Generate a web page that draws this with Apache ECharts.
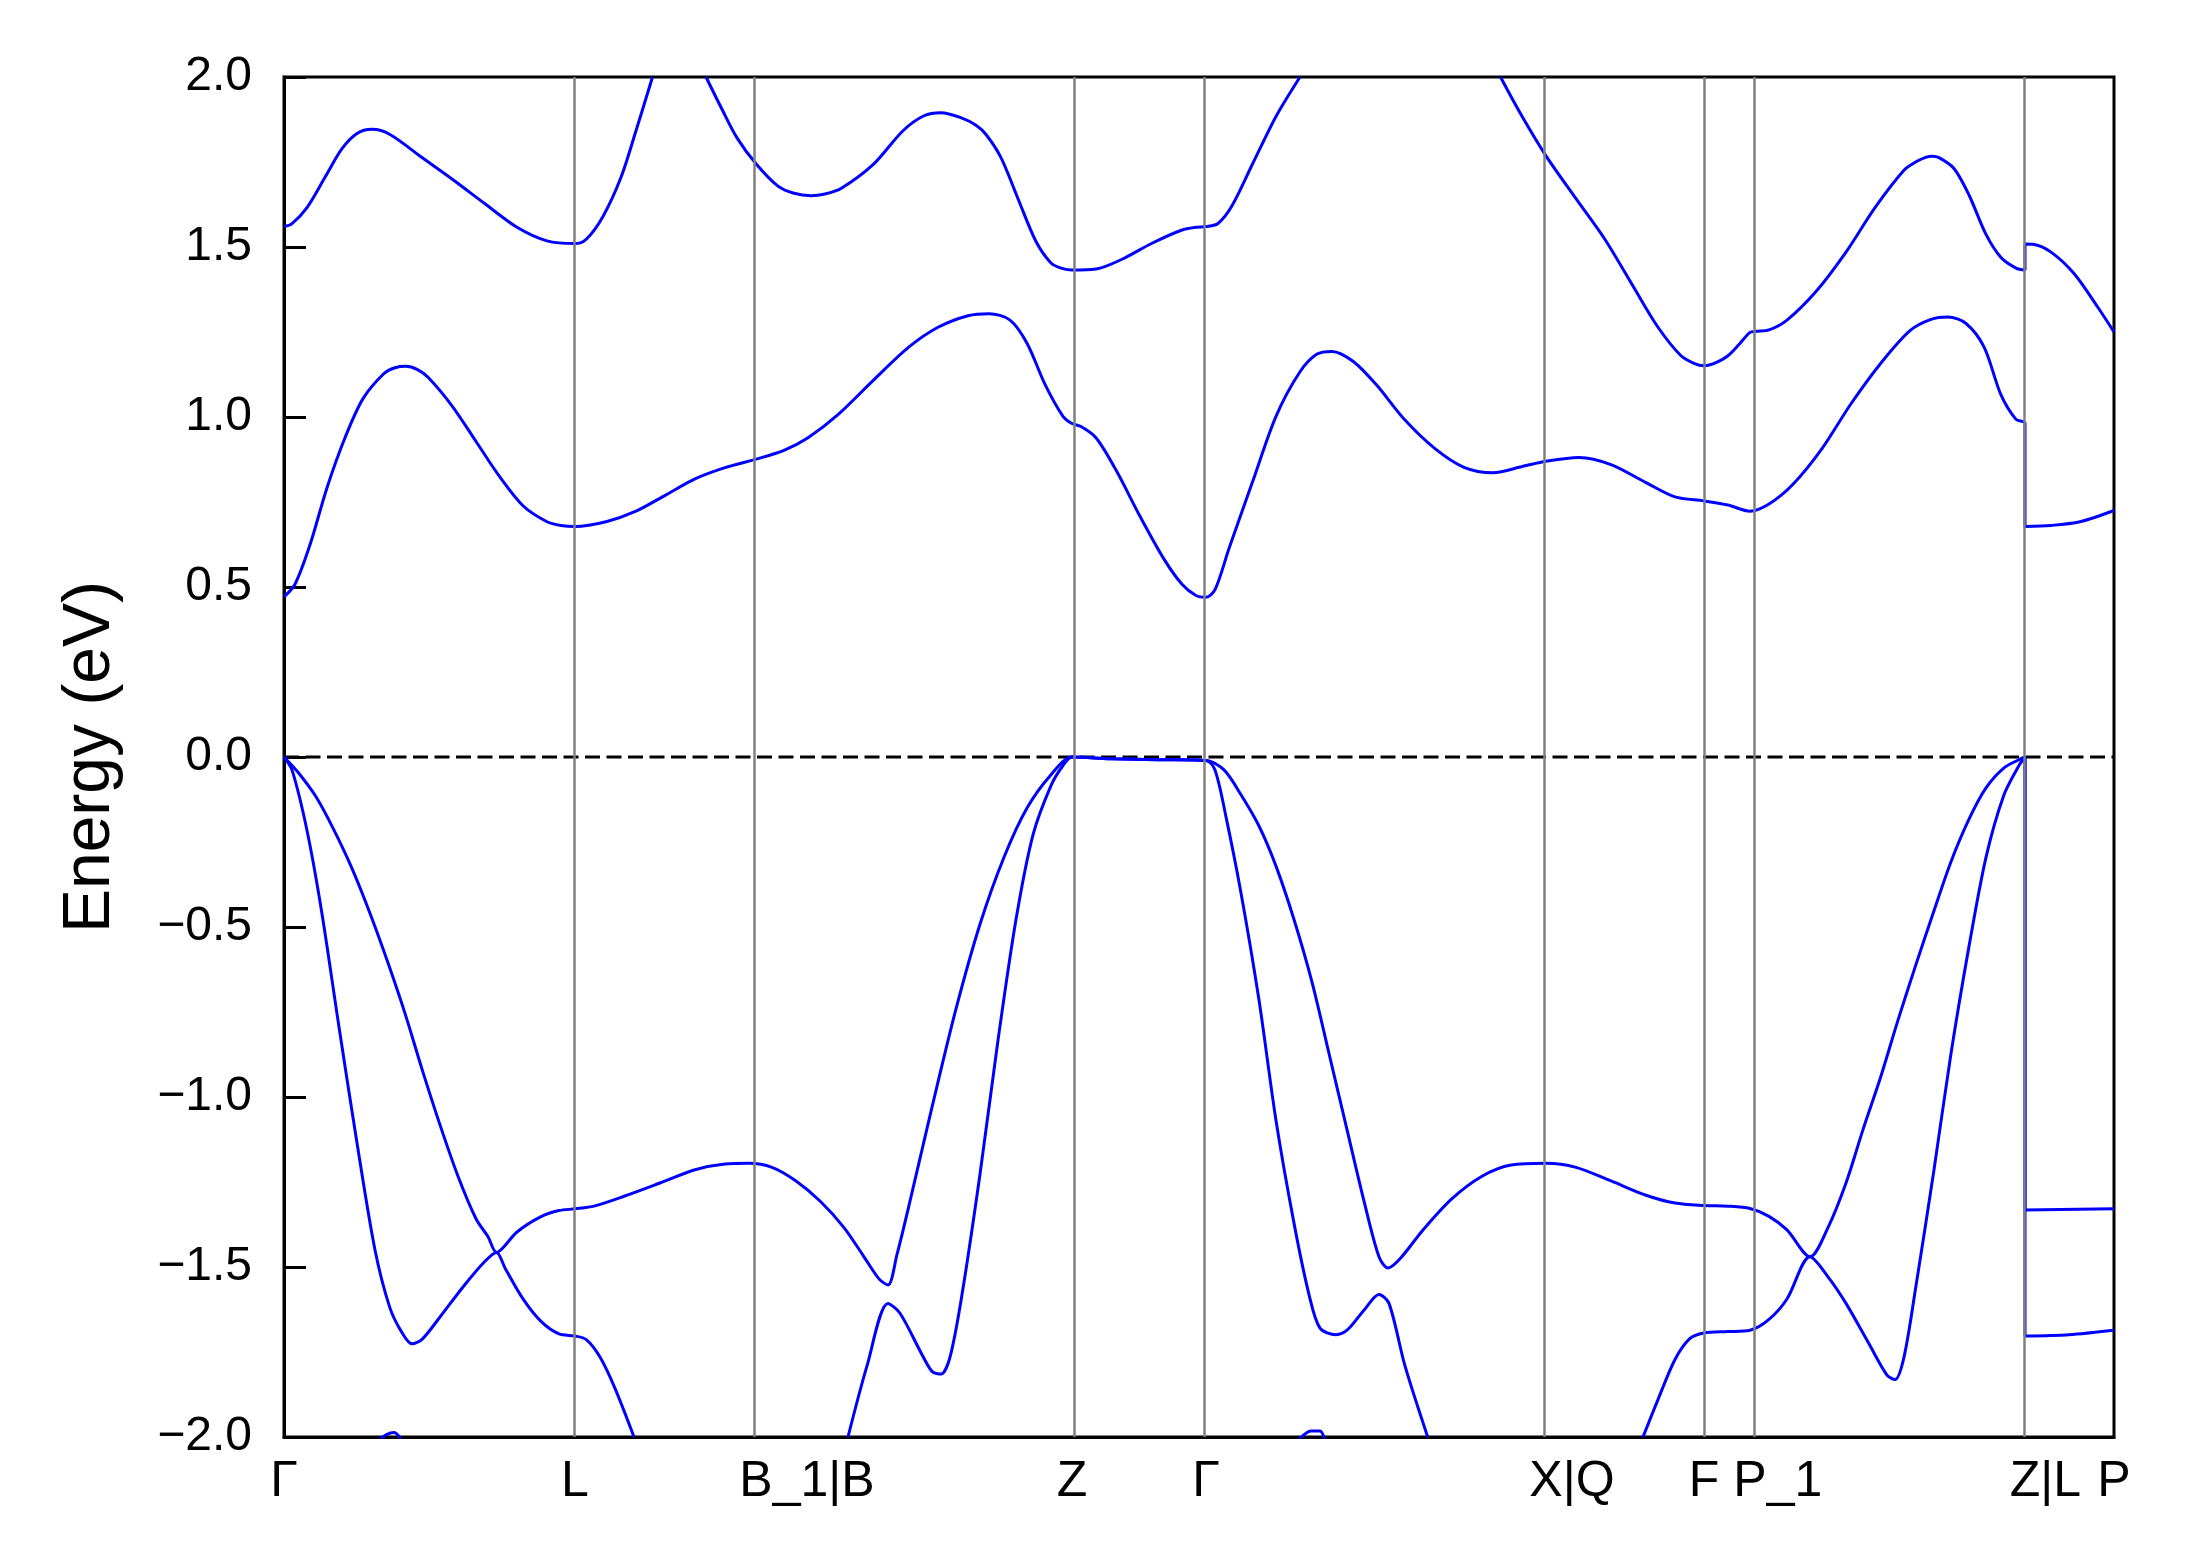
<!DOCTYPE html>
<html>
<head>
<meta charset="utf-8">
<title>Band structure</title>
<script src="https://cdn.jsdelivr.net/npm/echarts@6.0.0/dist/echarts.min.js"></script>
<style>
    html, body { margin: 0; padding: 0; background: #fff; }
    #band_chart { width: 2189px; height: 1567px; }
</style>
</head>
<body>
<div id="band_chart"></div>
<script>
// high-symmetry points along the k-path (k-distance) and their labels
var kTicks = [0, 0.291, 0.472, 0.788, 0.922, 1.262, 1.420, 1.466, 1.741, 1.830];
var kLabels = ['Γ', 'L', 'B_1|B', 'Z', 'Γ', 'X|Q', 'F', 'P_1', 'Z|L', 'P'];

// bands as [k, E(eV)], null = band leaves the -2..2 window
// (a point given twice is a sharp corner, e.g. where two bands cross)
var cb2 = [
    [0, 1.560], [0.008, 1.569], [0.023, 1.616], [0.041, 1.705], [0.058, 1.789], [0.073, 1.834],
    [0.088, 1.846], [0.106, 1.831], [0.138, 1.763], [0.168, 1.700], [0.201, 1.627], [0.233, 1.558],
    [0.263, 1.518], [0.291, 1.510], [0.302, 1.522], [0.319, 1.590], [0.337, 1.705], [0.352, 1.842],
    [0.3685, 2.0], null,
    [0.422, 2.0], [0.438, 1.905], [0.453, 1.821], [0.472, 1.745], [0.494, 1.679], [0.510, 1.658],
    [0.527, 1.651], [0.541, 1.656], [0.557, 1.672], [0.589, 1.742], [0.619, 1.842], [0.640, 1.886],
    [0.657, 1.895], [0.678, 1.879], [0.692, 1.858], [0.702, 1.831], [0.717, 1.763], [0.734, 1.642],
    [0.752, 1.516], [0.767, 1.453], [0.778, 1.437], [0.788, 1.432], [0.812, 1.435], [0.838, 1.464],
    [0.868, 1.511], [0.898, 1.550], [0.912, 1.558], [0.922, 1.560], [0.934, 1.569], [0.948, 1.621],
    [0.969, 1.747], [0.992, 1.884], [1.016, 2.0], null,
    [1.2165, 2.0], [1.236, 1.895], [1.262, 1.768], [1.292, 1.642], [1.321, 1.522], [1.350, 1.380],
    [1.374, 1.264], [1.397, 1.180], [1.410, 1.158], [1.420, 1.151], [1.432, 1.160], [1.444, 1.180],
    [1.455, 1.213], [1.466, 1.249], [1.466, 1.249], [1.472, 1.252], [1.485, 1.256], [1.503, 1.285],
    [1.532, 1.369], [1.562, 1.485], [1.591, 1.616], [1.620, 1.726], [1.633, 1.752], [1.641, 1.763],
    [1.648, 1.767], [1.655, 1.763], [1.670, 1.731], [1.685, 1.653], [1.702, 1.537], [1.717, 1.469],
    [1.732, 1.438], [1.741, 1.432], [1.741, 1.509], [1.749, 1.508], [1.767, 1.485], [1.790, 1.422],
    [1.814, 1.322], [1.830, 1.250]
];

var cb1 = [
    [0, 0.471], [0.011, 0.508], [0.026, 0.624], [0.043, 0.792], [0.061, 0.939], [0.079, 1.054],
    [0.100, 1.128], [0.111, 1.145], [0.122, 1.149], [0.133, 1.140], [0.144, 1.117], [0.168, 1.033],
    [0.192, 0.928], [0.216, 0.823], [0.239, 0.739], [0.263, 0.692], [0.277, 0.681], [0.291, 0.678],
    [0.322, 0.692], [0.352, 0.723], [0.382, 0.771], [0.411, 0.818], [0.441, 0.851], [0.472, 0.876],
    [0.500, 0.902], [0.524, 0.939], [0.554, 1.007], [0.589, 1.107], [0.625, 1.206], [0.654, 1.264],
    [0.684, 1.298], [0.705, 1.304], [0.726, 1.285], [0.743, 1.217], [0.761, 1.096], [0.779, 1.002],
    [0.788, 0.981], [0.797, 0.972], [0.812, 0.939], [0.832, 0.844], [0.856, 0.708], [0.880, 0.582],
    [0.898, 0.508], [0.912, 0.475], [0.922, 0.470], [0.931, 0.492], [0.945, 0.613], [0.969, 0.813],
    [0.992, 1.002], [1.016, 1.133], [1.033, 1.185], [1.048, 1.193], [1.069, 1.164], [1.092, 1.096],
    [1.121, 0.991], [1.151, 0.907], [1.180, 0.852], [1.209, 0.836], [1.239, 0.855], [1.262, 0.870],
    [1.295, 0.881], [1.327, 0.860], [1.362, 0.807], [1.391, 0.765], [1.420, 0.753], [1.444, 0.741],
    [1.466, 0.723], [1.466, 0.723], [1.485, 0.744], [1.509, 0.802], [1.538, 0.907], [1.567, 1.039],
    [1.597, 1.159], [1.626, 1.254], [1.647, 1.287], [1.664, 1.294], [1.682, 1.275], [1.700, 1.206],
    [1.717, 1.065], [1.732, 0.993], [1.741, 0.981], [1.741, 0.678], [1.767, 0.681], [1.796, 0.692],
    [1.830, 0.725]
];

var vb1 = [
    [0, 0], [0.014, -0.045], [0.032, -0.117], [0.049, -0.209], [0.067, -0.321], [0.085, -0.452],
    [0.103, -0.597], [0.121, -0.754], [0.138, -0.918], [0.156, -1.082], [0.174, -1.233], [0.192, -1.358],
    [0.204, -1.411], [0.2125, -1.457], [0.2125, -1.457], [0.233, -1.397], [0.257, -1.352], [0.275, -1.334],
    [0.291, -1.329], [0.310, -1.321], [0.340, -1.292], [0.376, -1.253], [0.411, -1.214], [0.441, -1.197],
    [0.465, -1.195], [0.488, -1.207], [0.512, -1.247], [0.536, -1.306], [0.560, -1.384], [0.580, -1.470],
    [0.595, -1.535], [0.604, -1.553], [0.604, -1.553], [0.613, -1.463], [0.625, -1.319], [0.648, -1.030],
    [0.672, -0.741], [0.696, -0.492], [0.720, -0.295], [0.743, -0.150], [0.767, -0.052], [0.788, 0],
    [0.826, -0.005], [0.874, -0.008], [0.922, -0.010], [0.940, -0.038], [0.957, -0.111], [0.975, -0.203],
    [0.992, -0.321], [1.010, -0.478], [1.028, -0.662], [1.045, -0.872], [1.063, -1.096], [1.080, -1.306],
    [1.095, -1.470], [1.104, -1.503], [1.104, -1.503], [1.116, -1.476], [1.139, -1.391], [1.168, -1.299],
    [1.198, -1.233], [1.227, -1.200], [1.262, -1.195], [1.292, -1.207], [1.327, -1.247], [1.362, -1.289],
    [1.391, -1.312], [1.420, -1.319], [1.444, -1.321], [1.466, -1.328], [1.485, -1.351], [1.503, -1.391],
    [1.526, -1.470], [1.526, -1.470], [1.544, -1.384], [1.562, -1.253], [1.579, -1.096], [1.597, -0.938],
    [1.614, -0.774], [1.632, -0.610], [1.650, -0.452], [1.667, -0.308], [1.685, -0.183], [1.702, -0.091],
    [1.720, -0.032], [1.735, -0.008], [1.741, 0], [1.741, -1.332], [1.830, -1.329]
];

var vb2 = [
    [0, 0], [0.008, -0.038], [0.023, -0.216], [0.0375, -0.452], [0.055, -0.794], [0.073, -1.135],
    [0.091, -1.450], [0.106, -1.621], [0.118, -1.693], [0.128, -1.726], [0.138, -1.713], [0.156, -1.647],
    [0.180, -1.555], [0.201, -1.483], [0.2125, -1.457], [0.2125, -1.457], [0.221, -1.503], [0.239, -1.594],
    [0.257, -1.660], [0.275, -1.697], [0.291, -1.703], [0.302, -1.713], [0.316, -1.765], [0.331, -1.857],
    [0.350, -2.0], null,
    [0.564, -2.0], [0.583, -1.791], [0.604, -1.607], [0.604, -1.607], [0.616, -1.636], [0.637, -1.752],
    [0.648, -1.807], [0.657, -1.815], [0.666, -1.765], [0.678, -1.581], [0.696, -1.227], [0.714, -0.833],
    [0.732, -0.478], [0.749, -0.229], [0.767, -0.084], [0.779, -0.025], [0.788, 0], [0.826, -0.005],
    [0.874, -0.008], [0.922, -0.010], [0.931, -0.038], [0.942, -0.176], [0.957, -0.400], [0.975, -0.715],
    [0.992, -1.069], [1.010, -1.371], [1.025, -1.581], [1.036, -1.680], [1.052, -1.699], [1.063, -1.686],
    [1.080, -1.627], [1.095, -1.581], [1.095, -1.581], [1.105, -1.607], [1.121, -1.791], [1.1437, -2.0], null,
    [1.359, -2.0], [1.374, -1.890], [1.391, -1.772], [1.406, -1.710], [1.420, -1.694], [1.444, -1.690],
    [1.466, -1.686], [1.485, -1.654], [1.503, -1.594], [1.526, -1.470], [1.526, -1.470], [1.544, -1.529],
    [1.562, -1.607], [1.585, -1.726], [1.603, -1.818], [1.611, -1.831], [1.620, -1.765], [1.632, -1.555],
    [1.650, -1.214], [1.667, -0.872], [1.685, -0.557], [1.702, -0.295], [1.720, -0.111], [1.735, -0.025],
    [1.741, 0], [1.741, -1.703], [1.785, -1.699], [1.830, -1.686]
];

// third valence band only peeks above -2 eV twice
var vb3 = [
    [0.094, -2.01], [0.103, -1.992], [0.110, -1.987], [0.118, -2.01], null,
    [1.014, -2.01], [1.027, -1.982], [1.036, -1.982], [1.041, -2.01]
];

var bands = [cb2, cb1, vb1, vb2, vb3];
var fermiLevel = 0;

var font = '"Liberation Sans", Arial, Helvetica, sans-serif';
var kFontSize = 50;

// cut a band into pieces at the nulls
function splitBand(band) {
    var segs = [[]];
    band.forEach(function (p) {
        if (p === null) segs.push([]);
        else segs[segs.length - 1].push(p);
    });
    return segs;
}

function minusLabel(value) {
    if (value < 0) return '\u2212' + Math.abs(value).toFixed(1);
    return value.toFixed(1);
}

// labels sit with their first letter centred on the tick, so pad the left
// side by the width of the rest of the label
var measureCtx = document.createElement('canvas').getContext('2d');
measureCtx.font = kFontSize + 'px ' + font;
var kRich = { t: { fontSize: kFontSize, fontFamily: font, color: '#000000' } };
kLabels.forEach(function (lab, i) {
    var restW = measureCtx.measureText(lab.slice(1)).width;
    kRich['p' + i] = { width: restW, fontSize: kFontSize, fontFamily: font };
});

function kLabel(value) {
    var best = 0;
    for (var i = 0; i < kTicks.length; i++) {
        if (Math.abs(kTicks[i] - value) < Math.abs(kTicks[best] - value)) best = i;
    }
    var lab = kLabels[best];
    if (lab.length > 1) return '{p' + best + '| }{t|' + lab + '}';
    return '{t|' + lab + '}';
}

function draw_band_chart() {
    var chartDom = document.getElementById('band_chart');
    var myChart = echarts.init(chartDom);

    var series = [];
    // high-symmetry lines
    series.push({
        type: 'line',
        data: [],
        z: 1,
        markLine: {
            silent: true,
            animation: false,
            symbol: ['none', 'none'],
            label: { show: false },
            lineStyle: { color: '#808080', width: 2.5, type: 'solid' },
            data: kTicks.slice(1, kTicks.length - 1).map(function (k) {
                return { xAxis: k };
            })
        }
    });
    // Fermi level, dashed
    series.push({
        type: 'line',
        data: [[kTicks[0], fermiLevel], [kTicks[kTicks.length - 1], fermiLevel]],
        symbol: 'none',
        showSymbol: false,
        silent: true,
        z: 2,
        lineStyle: { color: '#000000', width: 3, type: [15, 6.5] }
    });

    bands.forEach(function (band) {
        splitBand(band).forEach(function (seg) {
            series.push({
                type: 'line',
                data: seg,
                symbol: 'none',
                showSymbol: false,
                smooth: 0.3,
                clip: true,
                z: 3,
                lineStyle: { color: '#0000ff', width: 3 }
            });
        });
    });

    var option = {
        animation: false,
        backgroundColor: '#ffffff',
        grid: {
            left: 284,
            right: 75,
            top: 77,
            bottom: 130,
            show: true,
            borderColor: '#000000',
            borderWidth: 3,
            backgroundColor: 'transparent'
        },
        xAxis: {
            type: 'value',
            min: 0,
            max: 1.830,
            // keep the axis line at the bottom, not at E = 0
            axisLine: { show: true, onZero: false, lineStyle: { color: '#000000', width: 3 } },
            axisTick: { show: false },
            splitLine: { show: false },
            axisLabel: {
                customValues: kTicks,
                showMinLabel: true,
                showMaxLabel: true,
                hideOverlap: false,
                formatter: kLabel,
                rich: kRich,
                margin: 20,
                color: '#000000',
                fontSize: kFontSize,
                fontFamily: font
            }
        },
        yAxis: {
            type: 'value',
            min: -2,
            max: 2,
            interval: 0.5,
            name: 'Energy (eV)',
            nameLocation: 'middle',
            nameGap: 160,
            nameTextStyle: { color: '#000000', fontSize: 66, fontFamily: font },
            axisLine: { show: true, lineStyle: { color: '#000000', width: 3 } },
            axisTick: { show: true, inside: true, length: 22, lineStyle: { color: '#000000', width: 3 } },
            splitLine: { show: false },
            axisLabel: {
                formatter: minusLabel,
                margin: 32,
                color: '#000000',
                fontSize: 48,
                fontFamily: font
            }
        },
        series: series
    };

    option && myChart.setOption(option);
}

draw_band_chart();
</script>
</body>
</html>
